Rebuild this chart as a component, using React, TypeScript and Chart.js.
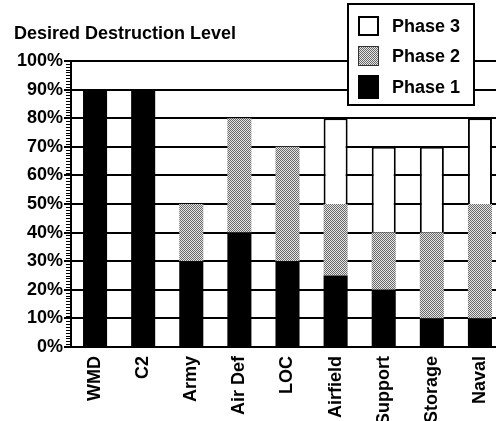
import React, { useEffect, useRef } from "react";
import { Chart, registerables } from "chart.js";

Chart.register(...registerables);

const categories = ["WMD", "C2", "Army", "Air Def", "LOC", "Airfield", "Support", "Storage", "Naval"];
const phase1 = [90, 90, 30, 40, 30, 25, 20, 10, 10];
const phase2 = [0, 0, 20, 40, 40, 25, 20, 30, 40];
const phase3 = [0, 0, 0, 0, 0, 30, 30, 30, 30];
const seriesNames = ["Phase 1", "Phase 2", "Phase 3"];
const yTicks = [0, 10, 20, 30, 40, 50, 60, 70, 80, 90, 100];
const titleText = "Desired Destruction Level";

const FONT = "'Liberation Sans', Arial, Helvetica, sans-serif";

function makePattern(): CanvasPattern | string {
  const c = document.createElement("canvas");
  c.width = 2;
  c.height = 2;
  const g = c.getContext("2d");
  if (!g) return "#aaa";
  g.fillStyle = "#e4e4e4";
  g.fillRect(0, 0, 2, 2);
  g.fillStyle = "#6a6a6a";
  g.fillRect(0, 0, 1, 1);
  g.fillRect(1, 1, 1, 1);
  const ctx = document.createElement("canvas").getContext("2d");
  const p = ctx ? ctx.createPattern(c, "repeat") : null;
  return p || "#aaa";
}

export default function App() {
  const ref = useRef<HTMLCanvasElement | null>(null);

  useEffect(() => {
    const canvas = ref.current;
    if (!canvas) return;
    const pat = makePattern();

    const overlay = {
      id: "overlay",
      afterDraw(chart: any) {
        const ctx = chart.ctx;
        const y = chart.scales.y;
        ctx.save();
        // minor ticks on y axis
        ctx.strokeStyle = "#000";
        ctx.lineWidth = 1;
        const ax = chart.chartArea.left - 1;
        for (let v = 0; v <= 100; v += 1) {
          const py = Math.round(y.getPixelForValue(v)) + 0.5;
          ctx.beginPath();
          ctx.moveTo(ax - 4, py);
          ctx.lineTo(ax, py);
          ctx.stroke();
        }
        // title
        ctx.fillStyle = "#000";
        ctx.font = `bold 18px ${FONT}`;
        ctx.textBaseline = "alphabetic";
        ctx.textAlign = "left";
        ctx.fillText(titleText, 14, 39);
        // legend box
        const bx = 347, by = 3, bw = 128, bh = 103;
        ctx.fillStyle = "#fff";
        ctx.fillRect(bx, by, bw, bh);
        ctx.strokeStyle = "#000";
        ctx.lineWidth = 2;
        ctx.strokeRect(bx + 1, by + 1, bw - 2, bh - 2);
        const rows = [
          { ds: 2, cy: 26 },
          { ds: 1, cy: 56 },
          { ds: 0, cy: 87 },
        ];
        rows.forEach((r) => {
          const d = chart.data.datasets[r.ds];
          const sx = 358, sw = 21, sh = 20;
          const sy = r.cy - sh / 2;
          if (r.ds === 2) {
            ctx.fillStyle = "#fff";
            ctx.fillRect(sx, sy, sw, sh);
            ctx.lineWidth = 2;
            ctx.strokeStyle = "#000";
            ctx.strokeRect(sx + 1, sy + 1, sw - 2, sh - 2);
          } else if (r.ds === 1) {
            ctx.fillStyle = pat as any;
            ctx.fillRect(sx, sy, sw, sh);
            ctx.lineWidth = 1;
            ctx.strokeStyle = "#333";
            ctx.strokeRect(sx + 0.5, sy + 0.5, sw - 1, sh - 1);
          } else {
            ctx.fillStyle = "#000";
            ctx.fillRect(sx, sy - 2, sw, sh + 4);
          }
          ctx.fillStyle = "#000";
          ctx.font = `bold 18px ${FONT}`;
          ctx.textBaseline = "middle";
          ctx.fillText(d.label, 392, r.cy + 1);
        });
        ctx.restore();
      },
    };

    const chart = new Chart(canvas, {
      type: "bar",
      data: {
        labels: categories,
        datasets: [
          {
            label: seriesNames[0],
            data: phase1,
            backgroundColor: "#000",
            borderWidth: 0,
            barPercentage: 1,
            categoryPercentage: 0.5,
          },
          {
            label: seriesNames[1],
            data: phase2,
            backgroundColor: pat as any,
            borderWidth: 0,
            barPercentage: 1,
            categoryPercentage: 0.5,
          },
          {
            label: seriesNames[2],
            data: phase3,
            backgroundColor: "#fff",
            borderColor: "#000",
            borderWidth: 2,
            barPercentage: 1,
            categoryPercentage: 0.5,
          },
        ],
      },
      options: {
        responsive: false,
        animation: false,
        devicePixelRatio: 1,
        layout: { padding: { top: 61, left: 0, right: 0, bottom: 0 } },
        plugins: {
          legend: { display: false },
          title: { display: false },
          tooltip: { enabled: false },
        },
        scales: {
          x: {
            stacked: true,
            grid: { display: false },
            border: { display: false },
            ticks: {
              color: "#000",
              font: { family: FONT, size: 18, weight: "bold" },
              maxRotation: 90,
              minRotation: 90,
              autoSkip: false,
              padding: 1,
            },
            afterFit: (s: any) => {
              s.height = 74;
            },
          },
          y: {
            stacked: true,
            min: 0,
            max: 100,
            afterBuildTicks: (s: any) => {
              s.ticks = yTicks.map((v) => ({ value: v }));
            },
            grid: {
              color: "#000",
              lineWidth: 2,
              tickLength: 7,
              tickColor: "#000",
            },
            border: { display: true, color: "#000", width: 2 },
            ticks: {
              color: "#000",
              font: { family: FONT, size: 18, weight: "bold" },
              padding: 1,
              callback: (v: any) => `${v}%`,
            },
            afterFit: (s: any) => {
              s.width = 71;
            },
          },
        },
      },
      plugins: [overlay],
    });
    return () => chart.destroy();
  }, []);

  return (
    <div
      style={{
        position: "absolute",
        left: 0,
        top: 0,
        width: 496,
        height: 421,
        overflow: "hidden",
        background: "#fff",
      }}
    >
      <canvas ref={ref} width={504} height={421} style={{ display: "block" }} />
    </div>
  );
}
